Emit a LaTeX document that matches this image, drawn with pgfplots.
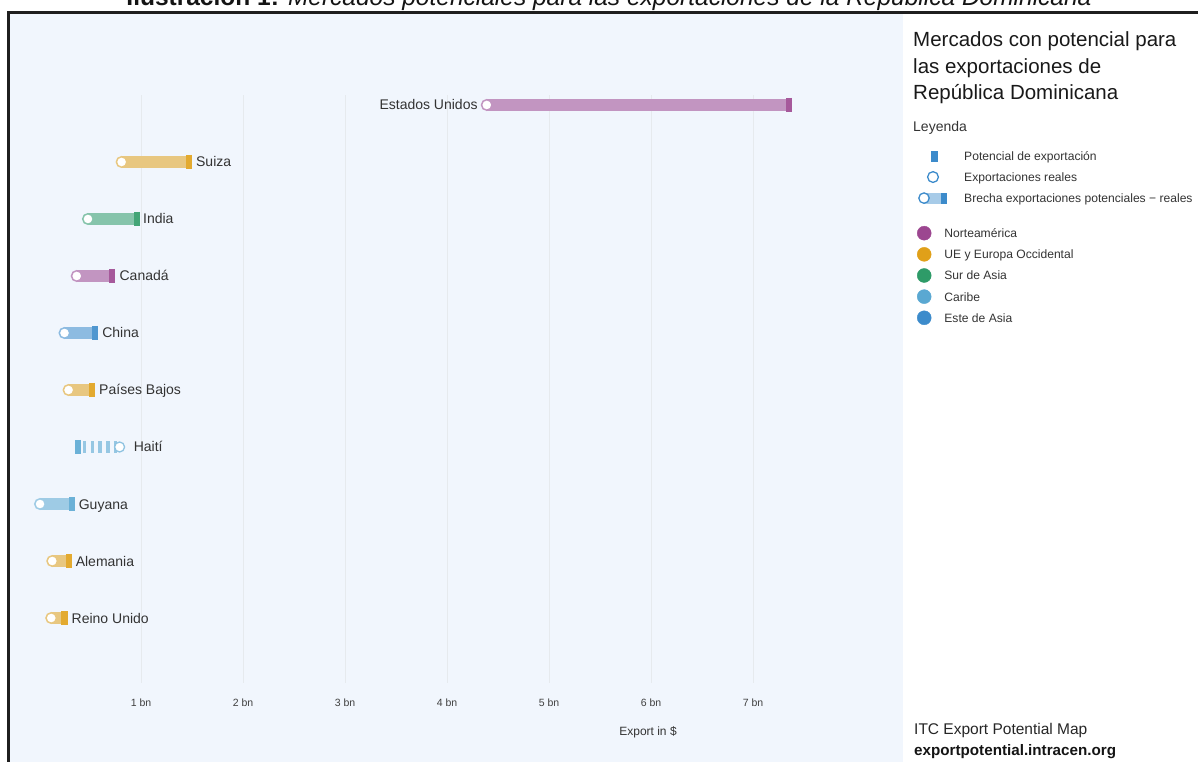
\documentclass[border=0pt]{standalone}
\usepackage{pgfplots}
\pgfplotsset{compat=1.18}
\usepackage{fontspec}
\setmainfont{Liberation Sans}
\definecolor{bg}{HTML}{F1F6FD}
\definecolor{gridc}{HTML}{E6EAEE}
\definecolor{txt}{HTML}{333333}
\definecolor{na}{HTML}{9C4690}
\definecolor{eu}{HTML}{E0A019}
\definecolor{sa}{HTML}{2E9B68}
\definecolor{ca}{HTML}{5AA8D2}
\definecolor{ea}{HTML}{3C8BCB}
\newcommand{\fs}[1]{\fontsize{#1}{#1}\selectfont}
\tikzset{lab/.style={font=\fs{14}, text=txt, inner sep=0pt}}
\pgfplotsset{
  gapbar/.style={line width=12pt, color=#1!55!bg},
  potmark/.style={only marks, mark=|, mark size=7pt, mark options={line width=6pt, draw=#1!90!white}},
  actmark/.style={only marks, mark=*, mark size=5.25pt, mark options={fill=white, draw=#1!55!bg, line width=1.5pt}},
}
\begin{document}
\begin{tikzpicture}[x=1pt,y=1pt]
\path[use as bounding box, clip] (0pt,0pt) rectangle (1198pt,762pt);
\fill[bg] (10pt,0pt) rectangle (903pt,748pt);
\draw[line width=2.7pt, color=black!88, line join=miter] (8.7pt,-3pt) -- (8.7pt,749.5pt) -- (1201pt,749.5pt);
\node[anchor=base, inner sep=0pt, font=\fs{24.5}, text=black!92] at (609pt,756pt) {\textbf{Ilustración 1:} \textit{Mercados potenciales para las exportaciones de la República Dominicana}};

\begin{axis}[at={(39pt,79pt)}, anchor=south west, scale only axis,
  width=714pt, height=588pt, xmin=0, xmax=7, ymin=-0.14, ymax=10.175,
  clip=false, axis line style={draw=none}, ytick=\empty,
  xtick={1,2,3,4,5,6,7}, xticklabels={1 bn,2 bn,3 bn,4 bn,5 bn,6 bn,7 bn},
  major tick length=0pt, xmajorgrids, grid style={color=gridc, line width=0.9pt},
  xticklabel style={font=\fs{10.5}, text=black!75, anchor=center, yshift=-20pt, inner sep=0pt}]
% Estados Unidos
\addplot[gapbar=na] coordinates {(4.39,10) (7.35,10)};
\addplot[potmark=na] coordinates {(7.35,10)};
\addplot[actmark=na] coordinates {(4.39,10)};
% Suiza
\addplot[gapbar=eu] coordinates {(0.81,9) (1.47,9)};
\addplot[potmark=eu] coordinates {(1.47,9)};
\addplot[actmark=eu] coordinates {(0.81,9)};
% India
\addplot[gapbar=sa] coordinates {(0.48,8) (0.96,8)};
\addplot[potmark=sa] coordinates {(0.96,8)};
\addplot[actmark=sa] coordinates {(0.48,8)};
% Canada
\addplot[gapbar=na] coordinates {(0.37,7) (0.72,7)};
\addplot[potmark=na] coordinates {(0.72,7)};
\addplot[actmark=na] coordinates {(0.37,7)};
% China
\addplot[gapbar=ea] coordinates {(0.25,6) (0.55,6)};
\addplot[potmark=ea] coordinates {(0.55,6)};
\addplot[actmark=ea] coordinates {(0.25,6)};
% Paises Bajos
\addplot[gapbar=eu] coordinates {(0.29,5) (0.52,5)};
\addplot[potmark=eu] coordinates {(0.52,5)};
\addplot[actmark=eu] coordinates {(0.29,5)};
% Haiti (actual above potential)
\addplot[line width=12pt, color=ca!60!bg, dash pattern=on 3.4pt off 4.3pt, dash phase=2.4pt] coordinates {(0.38,4) (0.76,4)};
\addplot[potmark=ca] coordinates {(0.38,4)};
\addplot[only marks, mark=*, mark size=5pt, mark options={fill=white, draw=ca!65!bg, line width=1.3pt}] coordinates {(0.79,4)};
% Guyana
\addplot[gapbar=ca] coordinates {(0.01,3) (0.32,3)};
\addplot[potmark=ca] coordinates {(0.32,3)};
\addplot[actmark=ca] coordinates {(0.01,3)};
% Alemania
\addplot[gapbar=eu] coordinates {(0.13,2) (0.29,2)};
\addplot[potmark=eu] coordinates {(0.29,2)};
\addplot[actmark=eu] coordinates {(0.13,2)};
% Reino Unido
\addplot[gapbar=eu] coordinates {(0.12,1) (0.25,1)};
\addplot[potmark=eu] coordinates {(0.25,1)};
\addplot[actmark=eu] coordinates {(0.12,1)};

\node[lab, anchor=base east, xshift=-9pt, yshift=-5pt] at (axis cs:4.39,10) {Estados Unidos};
\node[lab, anchor=base west, xshift=7pt, yshift=-5pt] at (axis cs:1.47,9) {Suiza};
\node[lab, anchor=base west, xshift=6pt, yshift=-5pt] at (axis cs:0.96,8) {India};
\node[lab, anchor=base west, xshift=7pt, yshift=-5pt] at (axis cs:0.72,7) {Canadá};
\node[lab, anchor=base west, xshift=7pt, yshift=-5pt] at (axis cs:0.55,6) {China};
\node[lab, anchor=base west, xshift=7pt, yshift=-5pt] at (axis cs:0.52,5) {Países Bajos};
\node[lab, anchor=base west, xshift=14pt, yshift=-5pt] at (axis cs:0.79,4) {Haití};
\node[lab, anchor=base west, xshift=7pt, yshift=-5pt] at (axis cs:0.32,3) {Guyana};
\node[lab, anchor=base west, xshift=7pt, yshift=-5pt] at (axis cs:0.29,2) {Alemania};
\node[lab, anchor=base west, xshift=7pt, yshift=-5pt] at (axis cs:0.25,1) {Reino Unido};
\end{axis}

\node[anchor=base, inner sep=0pt, font=\fs{12}, text=txt] at (648pt,26pt) {Export in \$};

% right panel
\node[anchor=base west, inner sep=0pt, font=\fs{20.5}, text=black!90] at (913pt,715pt) {Mercados con potencial para};
\node[anchor=base west, inner sep=0pt, font=\fs{20.5}, text=black!90] at (913pt,688.5pt) {las exportaciones de};
\node[anchor=base west, inner sep=0pt, font=\fs{20.5}, text=black!90] at (913pt,662pt) {República Dominicana};
\node[anchor=base west, inner sep=0pt, font=\fs{14}, text=txt] at (913pt,630pt) {Leyenda};
\node[anchor=base west, inner sep=0pt, font=\fs{15.5}, text=black!85] at (914pt,27pt) {ITC Export Potential Map};
\node[anchor=base west, inner sep=0pt, font=\fs{15.2}\bfseries, text=black!92] at (914pt,6pt) {exportpotential.intracen.org};

% legend: symbols
\begin{axis}[hide axis, scale only axis, width=50pt, height=50pt,
  xmin=0, xmax=1, ymin=0, ymax=1, at={(917pt,612pt)}, anchor=north west,
  legend cell align=left,
  legend style={at={(0,1)}, anchor=north west, draw=none, fill=none,
    inner sep=0pt, outer sep=0pt, row sep=9pt, column sep=18pt,
    font=\fs{12.1}, text=txt, nodes={inner sep=0pt, text height=9pt, text depth=0pt}}]
\addlegendimage{legend image code/.code={\path[draw=none, fill=none] (0pt,-6pt) rectangle (29pt,6pt); \fill[ea] (14pt,-5pt) rectangle (20pt,5pt);}}
\addlegendentry{Potencial de exportación}
\addlegendimage{legend image code/.code={\path[draw=none, fill=none] (0pt,-6pt) rectangle (29pt,6pt); \draw[ea, line width=1.3pt, fill=white] (16pt,0pt) circle[radius=5.4pt];}}
\addlegendentry{Exportaciones reales}
\addlegendimage{legend image code/.code={\path[draw=none, fill=none] (0pt,-6pt) rectangle (29pt,6pt); \fill[ea!45!white] (7pt,-5pt) rectangle (26pt,5pt); \fill[ea] (24pt,-5pt) rectangle (29pt,5pt); \draw[ea, line width=1.3pt, fill=white] (7pt,0pt) circle[radius=5.2pt];}}
\addlegendentry{Brecha exportaciones potenciales − reales}
\end{axis}

% legend: regions
\begin{axis}[hide axis, scale only axis, width=50pt, height=50pt,
  xmin=0, xmax=1, ymin=0, ymax=1, at={(917pt,536pt)}, anchor=north west,
  legend cell align=left,
  legend style={at={(0,1)}, anchor=north west, draw=none, fill=none,
    inner sep=0pt, outer sep=0pt, row sep=6.75pt, column sep=13pt,
    font=\fs{12.1}, text=txt, nodes={inner sep=0pt, text height=9pt, text depth=0pt}}]
\addlegendimage{legend image code/.code={\path[draw=none, fill=none] (0pt,-7pt) rectangle (14pt,7pt); \fill[na] (7pt,0pt) circle[radius=7pt];}}
\addlegendentry{Norteamérica}
\addlegendimage{legend image code/.code={\path[draw=none, fill=none] (0pt,-7pt) rectangle (14pt,7pt); \fill[eu] (7pt,0pt) circle[radius=7pt];}}
\addlegendentry{UE y Europa Occidental}
\addlegendimage{legend image code/.code={\path[draw=none, fill=none] (0pt,-7pt) rectangle (14pt,7pt); \fill[sa] (7pt,0pt) circle[radius=7pt];}}
\addlegendentry{Sur de Asia}
\addlegendimage{legend image code/.code={\path[draw=none, fill=none] (0pt,-7pt) rectangle (14pt,7pt); \fill[ca] (7pt,0pt) circle[radius=7pt];}}
\addlegendentry{Caribe}
\addlegendimage{legend image code/.code={\path[draw=none, fill=none] (0pt,-7pt) rectangle (14pt,7pt); \fill[ea] (7pt,0pt) circle[radius=7pt];}}
\addlegendentry{Este de Asia}
\end{axis}
\end{tikzpicture}
\end{document}
